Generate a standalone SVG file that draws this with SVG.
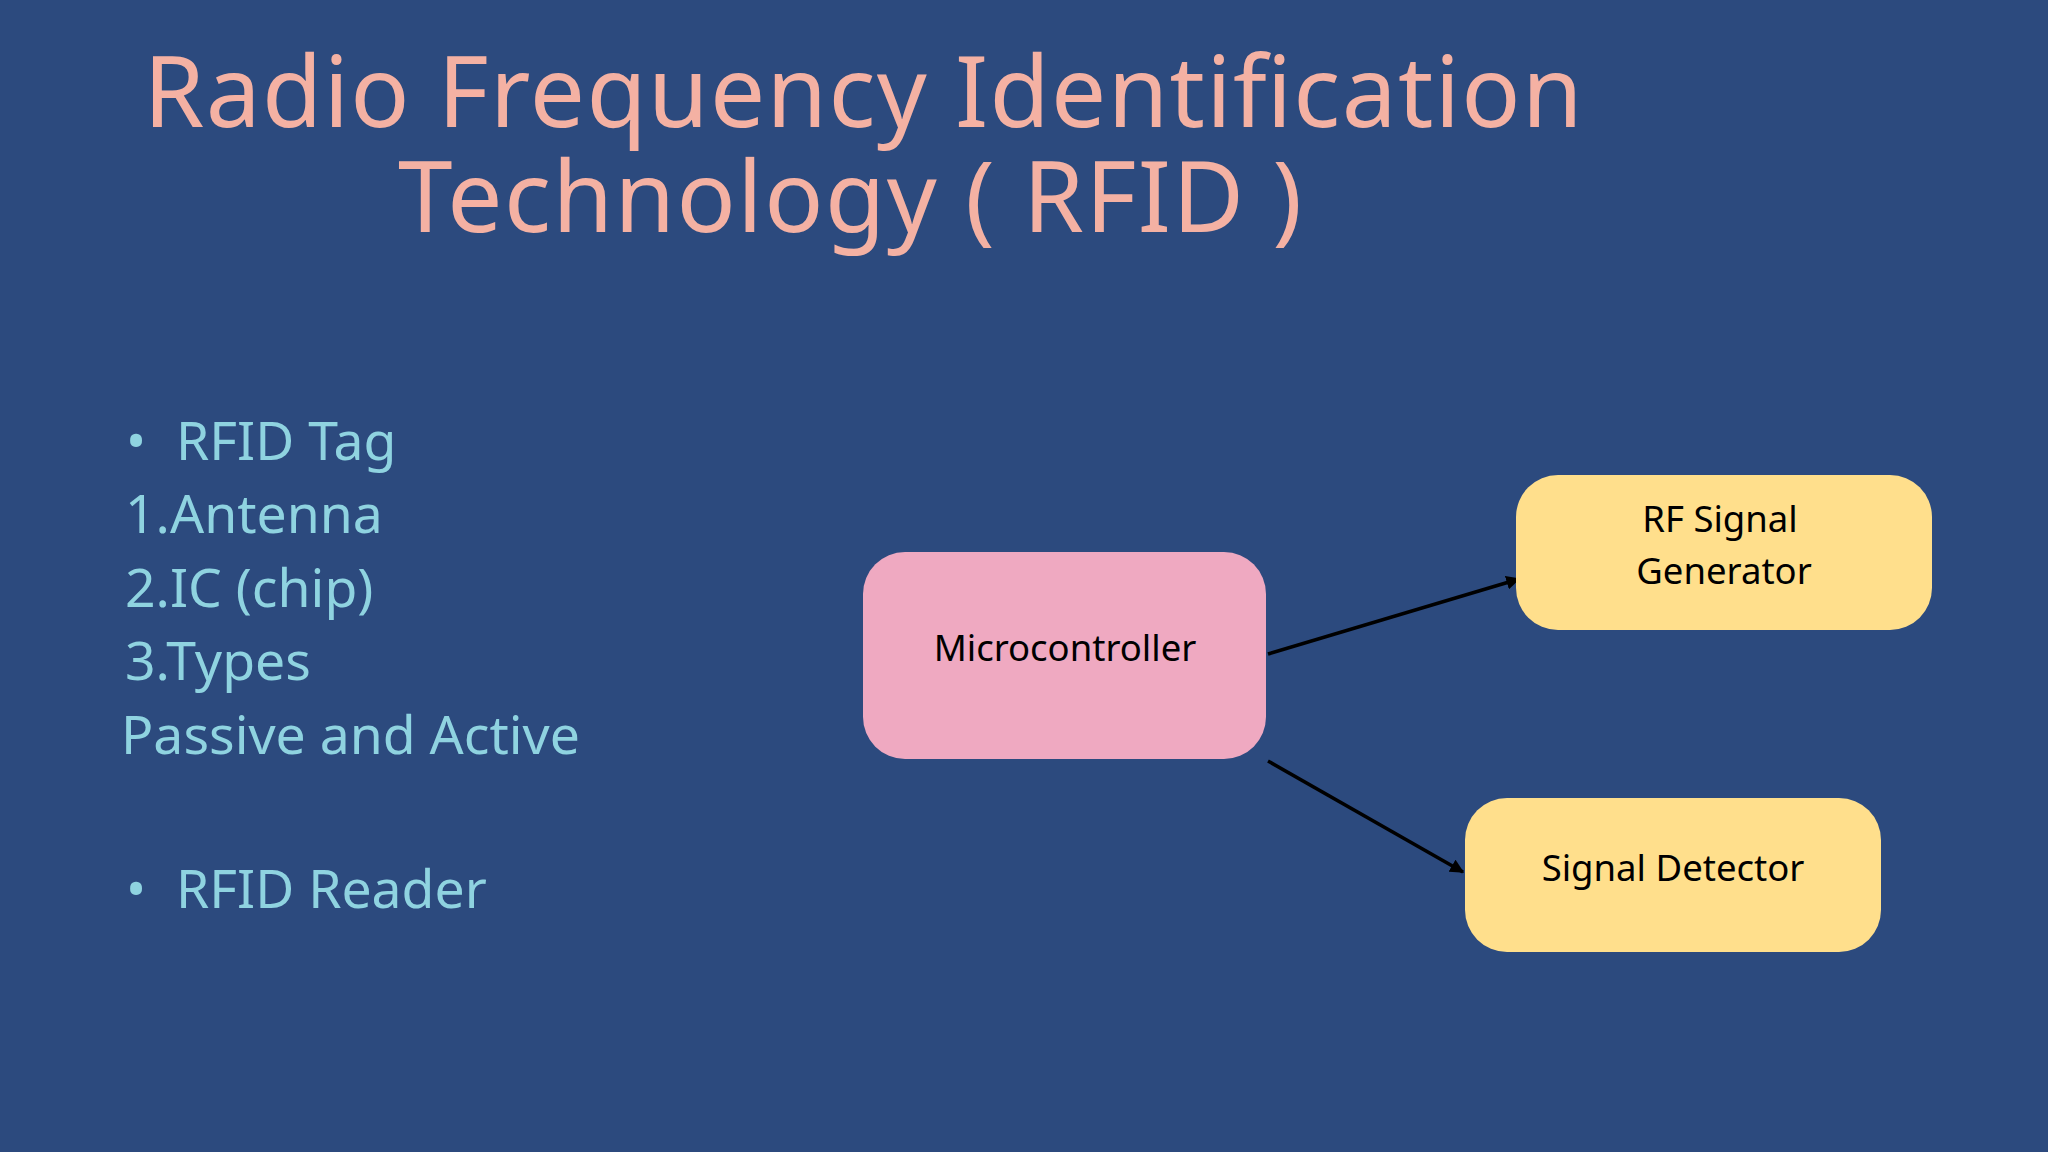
<svg xmlns="http://www.w3.org/2000/svg" width="2048" height="1152" viewBox="0 0 2048 1152">
<defs>
<style>
.t{font-family:"Noto Sans","Open Sans",sans-serif;fill:#F4B1A3;font-size:98px;text-anchor:middle}
.b{font-family:"Noto Sans","Open Sans",sans-serif;fill:#8FD3E0;font-size:53.5px}
.n{font-family:"Noto Sans","Open Sans",sans-serif;fill:#000;font-size:36.5px;text-anchor:middle}
.c{stroke:#000;stroke-width:3.5;fill:none;marker-end:url(#ah)}
</style>
<marker id="ah" viewBox="0 0 10 10" refX="9" refY="5" markerWidth="4" markerHeight="4" orient="auto"><path d="M0,0L10,5L0,10z" fill="#000"/></marker>
</defs>
<rect width="2048" height="1152" fill="#2C4A7E"/>
<text class="t" x="863" y="127" textLength="1439">Radio Frequency Identification</text>
<text class="t" x="850" y="232" textLength="904">Technology ( RFID )</text>
<g id="list">
<text class="b" x="126" y="460">•</text><text class="b" x="176" y="460">RFID Tag</text>
<text class="b" x="125" y="533">1.Antenna</text>
<text class="b" x="125" y="607">2.IC (chip)</text>
<text class="b" x="125" y="680">3.Types</text>
<text class="b" x="121" y="754">Passive and Active</text>
<text class="b" x="126" y="908">•</text><text class="b" x="176" y="908">RFID Reader</text>
</g>
<g id="connectors">
<line class="c" x1="1268" y1="654" x2="1519" y2="579"/>
<line class="c" x1="1268" y1="761" x2="1463" y2="872"/>
</g>
<g id="micro"><rect x="863" y="552" width="403" height="207" rx="42" fill="#EFA9C1"/><text class="n" x="1065" y="661">Microcontroller</text></g>
<g id="rfgen"><rect x="1516" y="475" width="416" height="155" rx="42" fill="#FFDF8C"/><text class="n" x="1720" y="532">RF Signal</text><text class="n" x="1724" y="584">Generator</text></g>
<g id="detector"><rect x="1465" y="798" width="416" height="154" rx="42" fill="#FFDF8C"/><text class="n" x="1673" y="881">Signal Detector</text></g>
</svg>
